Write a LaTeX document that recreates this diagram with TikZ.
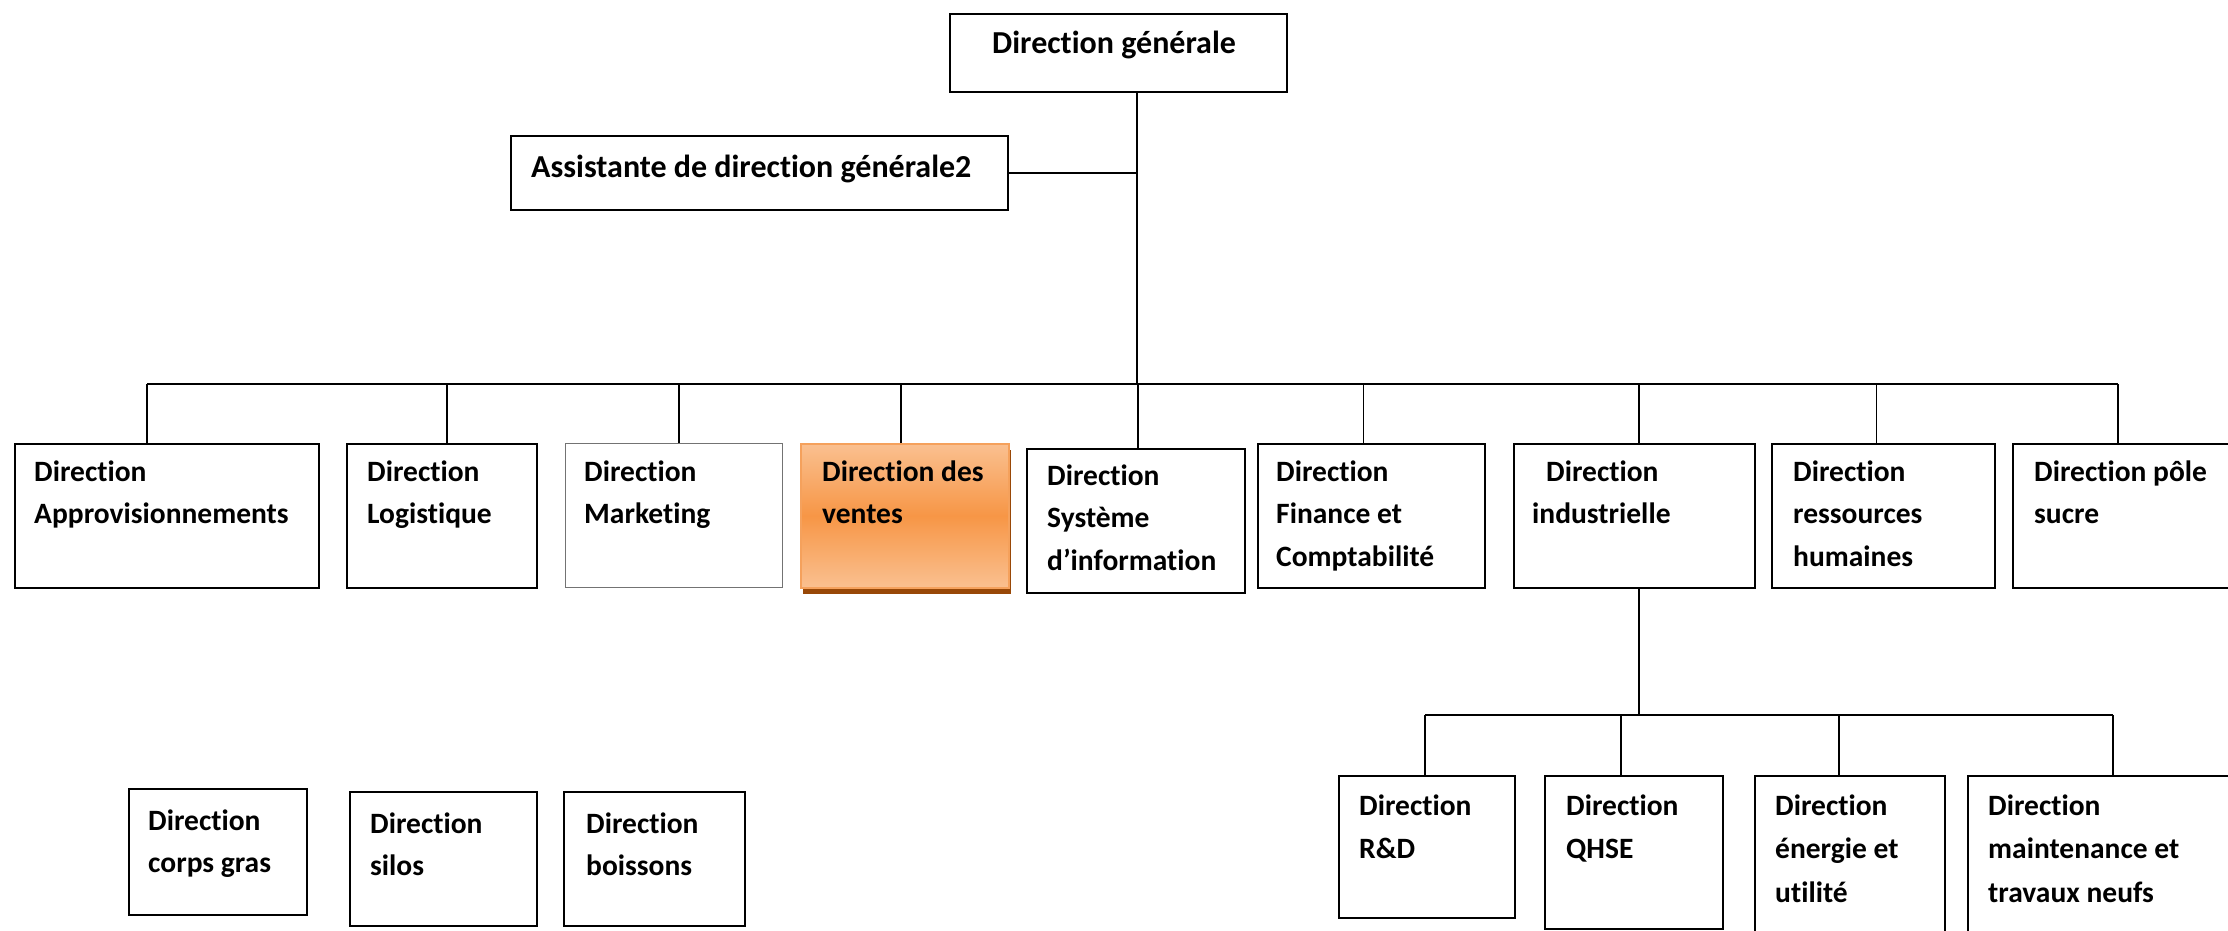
\documentclass[tikz,border=0pt]{standalone}
\usepackage{fontspec}
\setmainfont{Carlito}[Ligatures=NoCommon]
\usetikzlibrary{shadows}
\definecolor{orangemid}{HTML}{F79646}
\definecolor{orangelight}{HTML}{FAC090}
\definecolor{orangeborder}{HTML}{F5A15C}
\definecolor{shadowbrown}{HTML}{984807}
\newcommand{\boxtext}[1]{\parbox[t]{400pt}{\raggedright #1}}
\tikzset{
 box/.style={draw=black, line width=2pt, anchor=north west, inner sep=0pt, fill=white},
 thinbox/.style={box, draw=black!55, line width=1.2pt},
 salesbox/.style={anchor=north west, inner sep=0pt, draw=orangeborder, line width=1.5pt,
   top color=orangelight, bottom color=orangelight, middle color=orangemid,
   drop shadow={fill=shadowbrown, opacity=1, shadow xshift=2pt, shadow yshift=-6pt}},
 txt/.style={anchor=base west, inner sep=0pt, font=\bfseries\fontsize{29.5pt}{42.5pt}\selectfont},
 txtb/.style={anchor=base west, inner sep=0pt, font=\bfseries\fontsize{29.5pt}{43.5pt}\selectfont},
 txtt/.style={anchor=base west, inner sep=0pt, font=\bfseries\fontsize{32pt}{40pt}\selectfont},
 conn/.style={draw=black, line width=1.8pt},
}
\begin{document}
\begin{tikzpicture}[x=1pt,y=-1pt]
\useasboundingbox (0,0) rectangle (2228,931);
\clip (0,0) rectangle (2228,931);
% boxes
\node[box, minimum width=337pt, minimum height=78pt] (dg) at (949,13) {};
\node[box, minimum width=497pt, minimum height=74pt] (as) at (510,135) {};
\node[box, minimum width=304pt, minimum height=144pt] (app) at (14,443) {};
\node[box, minimum width=190pt, minimum height=144pt] (log) at (346,443) {};
\node[thinbox, minimum width=217pt, minimum height=144pt] (mkt) at (565,443) {};
\node[salesbox, minimum width=208pt, minimum height=144pt] (ven) at (800,443) {};
\node[box, minimum width=218pt, minimum height=144pt] (sys) at (1026,448) {};
\node[box, minimum width=227pt, minimum height=144pt] (fin) at (1257,443) {};
\node[box, minimum width=241pt, minimum height=144pt] (ind) at (1513,443) {};
\node[box, minimum width=223pt, minimum height=144pt] (rh) at (1771,443) {};
\node[box, minimum width=228pt, minimum height=144pt] (pole) at (2012,443) {};
\node[box, minimum width=178pt, minimum height=126pt] (cg) at (128,788) {};
\node[box, minimum width=187pt, minimum height=134pt] (sil) at (349,791) {};
\node[box, minimum width=181pt, minimum height=134pt] (boi) at (563,791) {};
\node[box, minimum width=176pt, minimum height=142pt] (rd) at (1338,775) {};
\node[box, minimum width=178pt, minimum height=153pt] (qh) at (1544,775) {};
\node[box, minimum width=190pt, minimum height=225pt] (en) at (1754,775) {};
\node[box, minimum width=273pt, minimum height=225pt] (mt) at (1967,775) {};
% texts
\node[txtt] (dg-t) at (992,54) {Direction générale};
\node[txtt] (as-t) at (531,178) {Assistante de direction générale2};
\node[txt] (app-t) at (34,481) {\boxtext{Direction\\Approvisionnements}};
\node[txt] (log-t) at (367,481) {\boxtext{Direction\\Logistique}};
\node[txt] (mkt-t) at (584,481) {\boxtext{Direction\\Marketing}};
\node[txt] (ven-t) at (822,481) {\boxtext{Direction des\\ventes}};
\node[txt] (sys-t) at (1047,485) {\boxtext{Direction\\Système\\d’information}};
\node[txt] (fin-t) at (1276,481) {\boxtext{Direction\\Finance et\\Comptabilité}};
\node[txt] (ind-t) at (1532,481) {\boxtext{\hspace*{14pt}Direction\\industrielle}};
\node[txt] (rh-t) at (1793,481) {\boxtext{Direction\\ressources\\humaines}};
\node[txt] (pole-t) at (2034,481) {\boxtext{Direction pôle\\sucre}};
\node[txt] (cg-t) at (148,830) {\boxtext{Direction\\corps gras}};
\node[txt] (sil-t) at (370,833) {\boxtext{Direction\\silos}};
\node[txt] (boi-t) at (586,833) {\boxtext{Direction\\boissons}};
\node[txtb] (rd-t) at (1359,815) {\boxtext{Direction\\R\&D}};
\node[txtb] (qh-t) at (1566,815) {\boxtext{Direction\\QHSE}};
\node[txtb] (en-t) at (1775,815) {\boxtext{Direction\\énergie et\\utilité}};
\node[txtb] (mt-t) at (1988,815) {\boxtext{Direction\\maintenance et\\travaux neufs}};
% connectors
\coordinate (trunk) at (1137,384);
\draw[conn] (dg.south -| trunk) -- (trunk);
\draw[conn] (as.east) -- (as.east -| trunk);
\foreach \n/\d in {app/-20, log/5, mkt/4.5, ven/-3.5, sys/2, fin/-8, ind/4.5, rh/-7, pole/-9}{
  \coordinate (\n-d) at ([xshift=\d pt]\n.north);
  \draw[conn] (\n-d) -- (\n-d |- trunk);
}
\draw[conn] (app-d |- trunk) -- (pole-d |- trunk);
\coordinate (bus2) at (1638,715);
\coordinate (ind-b) at ([xshift=4.5pt]ind.south);
\draw[conn] (ind-b) -- (ind-b |- bus2);
\foreach \n/\d in {rd/-2, qh/-13, en/-11, mt/8.5}{
  \coordinate (\n-d) at ([xshift=\d pt]\n.north);
  \draw[conn] (\n-d) -- (\n-d |- bus2);
}
\draw[conn] (rd-d |- bus2) -- (mt-d |- bus2);
\end{tikzpicture}
\end{document}
